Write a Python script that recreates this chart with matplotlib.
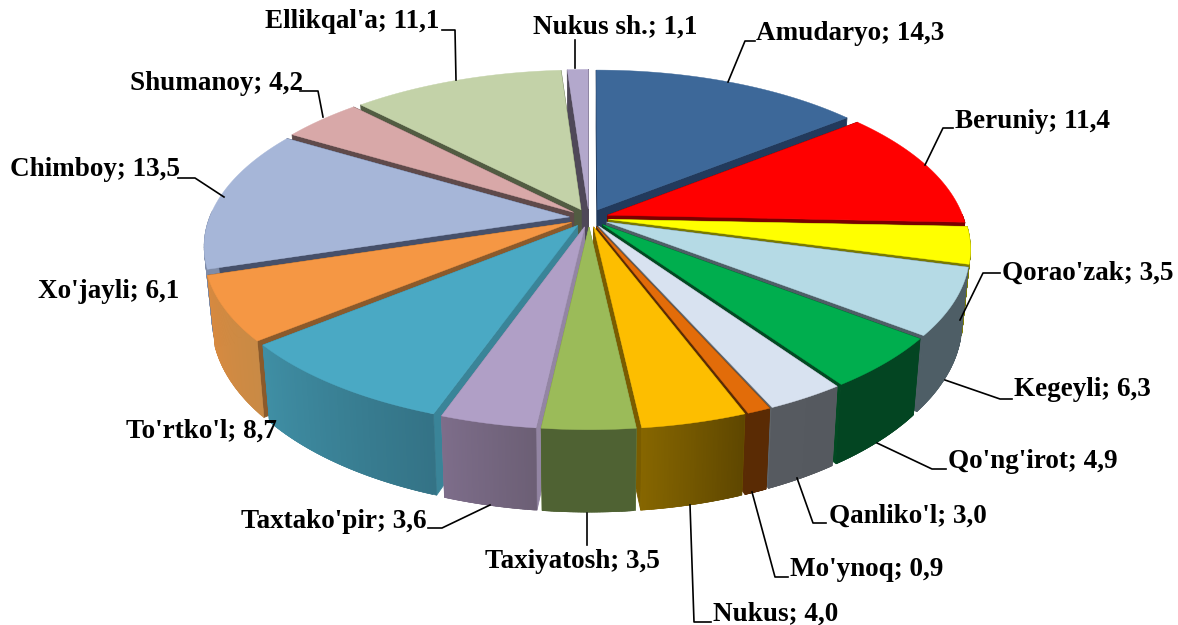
import numpy as np
import matplotlib
matplotlib.use('Agg')
import matplotlib.pyplot as plt
from matplotlib.colors import to_rgb

names = ['Amudaryo', 'Beruniy', "Qorao'zak", 'Kegeyli', "Qo'ng'irot", "Qanliko'l", "Mo'ynoq", 'Nukus',
         'Taxiyatosh', "Taxtako'pir", "To'rtko'l", "Xo'jayli", 'Chimboy', 'Shumanoy', "Ellikqal'a", 'Nukus sh.']
values = [14.3, 11.4, 3.5, 6.3, 4.9, 3.0, 0.9, 4.0, 3.5, 3.6, 8.7, 6.1, 13.5, 4.2, 11.1, 1.1]

top_colors = ['#3D6899', '#FF0000', '#FFFF00', '#B5DAE5', '#00AE4E', '#D8E2F0', '#E26C09', '#FDBE00',
              '#9BBB59', '#B09FC6', '#4AA9C4', '#F59744', '#A6B6D8', '#D8A8A8', '#C3D2A8', '#B3A8CC']
radial_colors = ['#223A5C', '#7A0000', '#7A7A00', '#4E5E66', '#024A22', '#5E6368', '#5A2B04', '#7A5C00',
                 '#7D9447', '#9385A3', '#3A8498', '#8B5A2B', '#46506A', '#5F4A4A', '#525C42', '#4F4858']
# outer wall shade at start and end of each slice (clockwise)
wall_start = ['#223A5C', '#7A0000', '#808000', '#4E5E66', '#034522', '#55595F', '#5A2B04', '#5F4700',
              '#4F6233', '#6C5F75', '#347386', '#C98A45', '#7F8CA8', '#8F7070', '#7F8C66', '#6E6480']
wall_end = ['#223A5C', '#7A0000', '#808000', '#4E5E66', '#034522', '#565A60', '#5A2B04', '#866600',
            '#4F6233', '#7D6D8A', '#3F8EA4', '#D88A40', '#7F8CA8', '#8F7070', '#7F8C66', '#6E6480']

# text left edge, text centre y, leader line (None = no leader)
labels_pos = [
    (756, 34, [(728, 82), (745, 41), (755, 41)]),
    (955, 121, [(925, 165), (943, 128), (953, 128)]),
    (1002, 273, [(960, 320), (983, 273), (1000, 273)]),
    (1014, 390, [(945, 380), (1000, 399), (1012, 399)]),
    (948, 461, [(877, 443), (932, 469), (946, 469)]),
    (829, 516, [(797, 478), (813, 523), (826, 523)]),
    (790, 570, [(752, 492), (775, 577), (788, 577)]),
    (713, 614, [(690, 505), (694, 622), (711, 622)]),
    (485, 562, [(587, 513), (587, 545)]),
    (241, 522, [(490, 505), (442, 528), (428, 528)]),
    (126, 431, None),
    (38, 292, None),
    (10, 170, [(224, 197), (195, 178), (178, 178)]),
    (130, 83, [(323, 117), (318, 91), (300, 91)]),
    (265, 22, [(456, 80), (455, 30), (442, 30)]),
    (533, 27, [(575, 68), (575, 40)]),
]

# projection of the disc
cx, cy = 589, 218
B, B_left, A = 356, 360, 165.5
k = 0.166
h = 68
explode = 0.055


def project(u, v, down=False):
    s = 1 / (1 - k * v)
    b = B if u >= 0 else B_left
    if down:
        return cx + b * u * s * 0.98, cy + A * v * s + h * s
    return cx + b * u * s, cy + A * v * s


def mix(c1, c2, t):
    a, b = np.array(to_rgb(c1)), np.array(to_rgb(c2))
    return a + (b - a) * t


fig = plt.figure(figsize=(11.78, 6.25), dpi=100)
ax = fig.add_axes([0, 0, 1, 1])
ax.set_xlim(0, 1178)
ax.set_ylim(625, 0)
ax.axis('off')

edges = np.cumsum([0] + values) / sum(values) * 2 * np.pi
slices = []
for i in range(len(values)):
    mid = (edges[i] + edges[i + 1]) / 2
    slices.append((-np.cos(mid), i, mid))
slices.sort()

z = 2
for _, i, mid in slices:
    ex, ey = explode * np.sin(mid), -explode * np.cos(mid)
    t = np.linspace(edges[i], edges[i + 1], 60)
    us = np.sin(t) + ex
    vs = -np.cos(t) + ey

    # radial walls
    for u, v in [(us[0], vs[0]), (us[-1], vs[-1])]:
        p1 = project(ex, ey)
        p2 = project(u, v)
        p3 = project(u, v, True)
        p4 = project(ex, ey, True)
        ax.fill([p1[0], p2[0], p3[0], p4[0]], [p1[1], p2[1], p3[1], p4[1]],
                color=radial_colors[i], lw=0.6, zorder=z)
        z += 1

    # outer wall, overlapping strips for the gradient so no seams show
    for j in range(len(t) - 1):
        if vs[j] < -0.02 and vs[j + 1] < -0.02:
            continue  # faces away from the viewer
        j2 = min(j + 2, len(t) - 1)
        xs = [project(us[a], vs[a])[0] for a in range(j, j2 + 1)] + \
             [project(us[a], vs[a], True)[0] for a in range(j2, j - 1, -1)]
        ys = [project(us[a], vs[a])[1] for a in range(j, j2 + 1)] + \
             [project(us[a], vs[a], True)[1] for a in range(j2, j - 1, -1)]
        col = mix(wall_start[i], wall_end[i], j / (len(t) - 2))
        ax.fill(xs, ys, color=col, lw=0.4, zorder=z)
        z += 1

    # top face
    xy = [project(ex, ey)] + [project(u, v) for u, v in zip(us, vs)]
    ax.fill([p[0] for p in xy], [p[1] for p in xy], color=top_colors[i], lw=0.3, zorder=z)
    z += 1

for name, val, (x, y, line) in zip(names, values, labels_pos):
    txt = name + '; ' + ('%.1f' % val).replace('.', ',')
    ax.text(x, y, txt, family='Liberation Serif', weight='bold', fontsize=19.5,
            ha='left', va='center', color='black', zorder=z + 1)
    if line is not None:
        ax.plot([p[0] for p in line], [p[1] for p in line], color='black', lw=1.2, zorder=z)

fig.savefig('out.png', dpi=100)
